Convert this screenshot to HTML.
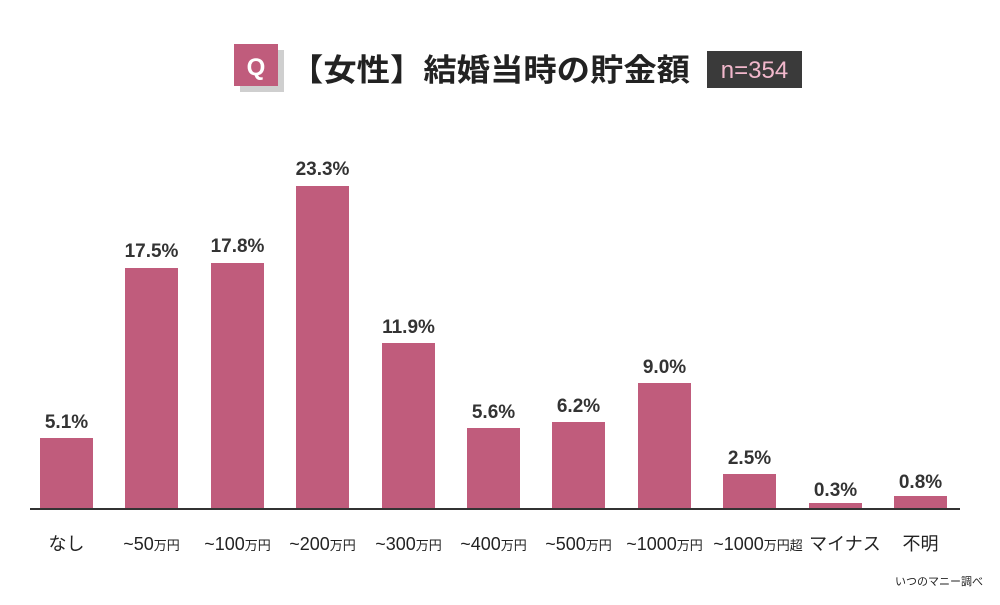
<!DOCTYPE html>
<html><head><meta charset="utf-8"><style>
body{margin:0;background:#fff;}
svg text{font-family:"Liberation Sans","Noto Sans CJK JP",sans-serif;}
</style></head><body>
<svg width="1000" height="600" viewBox="0 0 1000 600" xmlns="http://www.w3.org/2000/svg">
<rect width="1000" height="600" fill="#fff"/>
<rect x="240" y="50" width="44" height="42" fill="#cfcfcf"/>
<rect x="234" y="44" width="44" height="42" fill="#c05c7c"/>
<text x="256" y="75" text-anchor="middle" font-size="24" font-weight="bold" fill="#fff">Q</text>
<text x="290" y="81" font-size="31" font-weight="bold" fill="#222" textLength="400" lengthAdjust="spacingAndGlyphs">【女性】結婚当時の貯金額</text>
<rect x="707" y="51" width="95" height="37" fill="#3a3a3a"/>
<text x="754.5" y="78" text-anchor="middle" font-size="24" fill="#f2b8cc">n=354</text>
<g fill="#c05c7c">
<rect x="40" y="438" width="53" height="71"/>
<rect x="125" y="268" width="53" height="241"/>
<rect x="211" y="263" width="53" height="246"/>
<rect x="296" y="186" width="53" height="323"/>
<rect x="382" y="343" width="53" height="166"/>
<rect x="467" y="428" width="53" height="81"/>
<rect x="552" y="422" width="53" height="87"/>
<rect x="638" y="383" width="53" height="126"/>
<rect x="723" y="474" width="53" height="35"/>
<rect x="809" y="503" width="53" height="6"/>
<rect x="894" y="496" width="53" height="13"/>
</g>
<line x1="30" y1="509" x2="960" y2="509" stroke="#333" stroke-width="2"/>
<g font-size="19" font-weight="bold" fill="#333" text-anchor="middle">
<text x="66.5" y="428">5.1%</text>
<text x="151.5" y="257">17.5%</text>
<text x="237.5" y="252">17.8%</text>
<text x="322.5" y="175">23.3%</text>
<text x="408.5" y="333">11.9%</text>
<text x="493.5" y="418">5.6%</text>
<text x="578.5" y="412">6.2%</text>
<text x="664.5" y="373">9.0%</text>
<text x="749.5" y="464">2.5%</text>
<text x="835.5" y="496">0.3%</text>
<text x="920.5" y="488">0.8%</text>
</g>
<g font-size="18" fill="#222" text-anchor="middle">
<text x="66.5" y="550">なし</text>
<text x="151.5" y="550">~50<tspan font-size="13">万円</tspan></text>
<text x="237.5" y="550">~100<tspan font-size="13">万円</tspan></text>
<text x="322.5" y="550">~200<tspan font-size="13">万円</tspan></text>
<text x="408.5" y="550">~300<tspan font-size="13">万円</tspan></text>
<text x="493.5" y="550">~400<tspan font-size="13">万円</tspan></text>
<text x="578.5" y="550">~500<tspan font-size="13">万円</tspan></text>
<text x="664.5" y="550">~1000<tspan font-size="13">万円</tspan></text>
<text x="758" y="550">~1000<tspan font-size="13">万円超</tspan></text>
<text x="845" y="550">マイナス</text>
<text x="920.5" y="550">不明</text>
</g>
<text x="983" y="585" text-anchor="end" font-size="11" fill="#222">いつのマニー調べ</text>
</svg>
</body></html>
